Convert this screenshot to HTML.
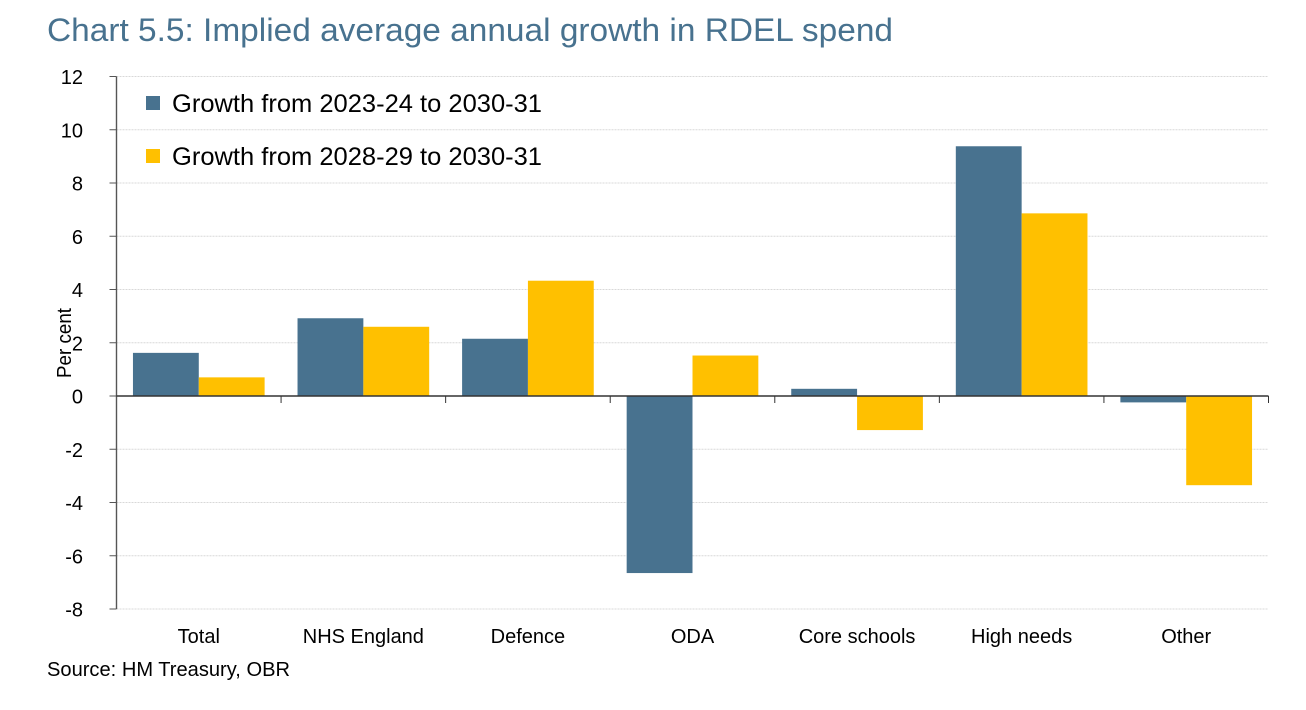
<!DOCTYPE html>
<html lang="en">
<head>
<meta charset="utf-8">
<title>Chart 5.5: Implied average annual growth in RDEL spend</title>
<style>
html,body{margin:0;padding:0;background:#fff;}
body{width:1306px;height:710px;overflow:hidden;}
svg{display:block;}
text{font-family:"Liberation Sans",sans-serif;fill:#000;}
</style>
</head>
<body>
<svg id="chart" xmlns="http://www.w3.org/2000/svg" width="1306" height="710" viewBox="0 0 1306 710">
  <text x="47" y="41" font-size="32" textLength="846" lengthAdjust="spacingAndGlyphs" style="fill:#48728f">Chart 5.5: Implied average annual growth in RDEL spend</text>
  <g id="gridlines"></g>
  <g id="bars"></g>
  <g id="axes"></g>
  <text transform="translate(71,343) rotate(-90)" text-anchor="middle" font-size="20" textLength="70" lengthAdjust="spacingAndGlyphs">Per cent</text>
  <g>
    <rect x="146" y="96" width="14" height="14" fill="#48728f"/>
    <text x="172" y="112" font-size="25" textLength="370" lengthAdjust="spacingAndGlyphs">Growth from 2023-24 to 2030-31</text>
    <rect x="146" y="149" width="14" height="14" fill="#ffc000"/>
    <text x="172" y="165" font-size="25" textLength="370" lengthAdjust="spacingAndGlyphs">Growth from 2028-29 to 2030-31</text>
  </g>
  <text x="47" y="676" font-size="20.5" textLength="243" lengthAdjust="spacingAndGlyphs">Source: HM Treasury, OBR</text>
</svg>
<script>
const categories = ['Total', 'NHS England', 'Defence', 'ODA', 'Core schools', 'High needs', 'Other'];
const growthFrom2023 = [1.62, 2.92, 2.15, -6.65, 0.27, 9.38, -0.24];
const growthFrom2028 = [0.7, 2.6, 4.33, 1.52, -1.28, 6.86, -3.35];
const yTicks = [12, 10, 8, 6, 4, 2, 0, -2, -4, -6, -8];

const NS = 'http://www.w3.org/2000/svg';
const plotLeft = 116.5, plotRight = 1268.5, plotTop = 76.5, plotBottom = 609;
const yMax = 12, yMin = -8;

function yScale(v) {
  return plotTop + (yMax - v) / (yMax - yMin) * (plotBottom - plotTop);
}
function xBand() {
  return (plotRight - plotLeft) / categories.length;
}
function xScale(i, frac) {
  return plotLeft + (i + frac) * xBand();
}
function make(tag, attrs, parent) {
  const el = document.createElementNS(NS, tag);
  for (const k in attrs) el.setAttribute(k, attrs[k]);
  parent.appendChild(el);
  return el;
}

const gridG = document.getElementById('gridlines');
const barsG = document.getElementById('bars');
const axesG = document.getElementById('axes');

yTicks.forEach(function (t) {
  const y = yScale(t);
  const grid = make('line', {x1: plotLeft, x2: plotRight, y1: y, y2: y, stroke: '#d8d8d8', 'stroke-width': 1, 'stroke-dasharray': '2 1'}, gridG);
  
  
  const tick = make('line', {x1: plotLeft - 7, x2: plotLeft, y1: y, y2: y, stroke: '#555', 'stroke-width': 1}, axesG);
  
  
  const label = make('text', {x: 83, y: y + 7.5, 'text-anchor': 'end', 'font-size': 20}, axesG);
  label.textContent = String(t);
  
  
});

function drawBar(value, i, frac, color) {
  const x = xScale(i, frac);
  const w = xBand() * 0.4;
  const y0 = yScale(0), y1 = yScale(value);
  const bar = make('rect', {x: x, y: Math.min(y0, y1), width: w, height: Math.abs(y1 - y0), fill: color}, barsG);
  
  
}
categories.forEach(function (c, i) {
  drawBar(growthFrom2023[i], i, 0.1, '#48728f');
  drawBar(growthFrom2028[i], i, 0.5, '#ffc000');
});

const yAxis = make('line', {x1: plotLeft, x2: plotLeft, y1: plotTop, y2: plotBottom, stroke: '#555', 'stroke-width': 1.4}, axesG);


const zeroLine = make('line', {x1: plotLeft, x2: plotRight, y1: yScale(0), y2: yScale(0), stroke: '#333', 'stroke-width': 1.4}, axesG);



categories.forEach(function (c, i) {
  const xt = xScale(i, 1);
  const tick = make('line', {x1: xt, x2: xt, y1: yScale(0), y2: yScale(0) + 7, stroke: '#333', 'stroke-width': 1}, axesG);
  
  
  const label = make('text', {x: xScale(i, 0.5), y: 643, 'text-anchor': 'middle', 'font-size': 20}, axesG);
  label.textContent = c;
  
  
});
</script>
</body>
</html>
